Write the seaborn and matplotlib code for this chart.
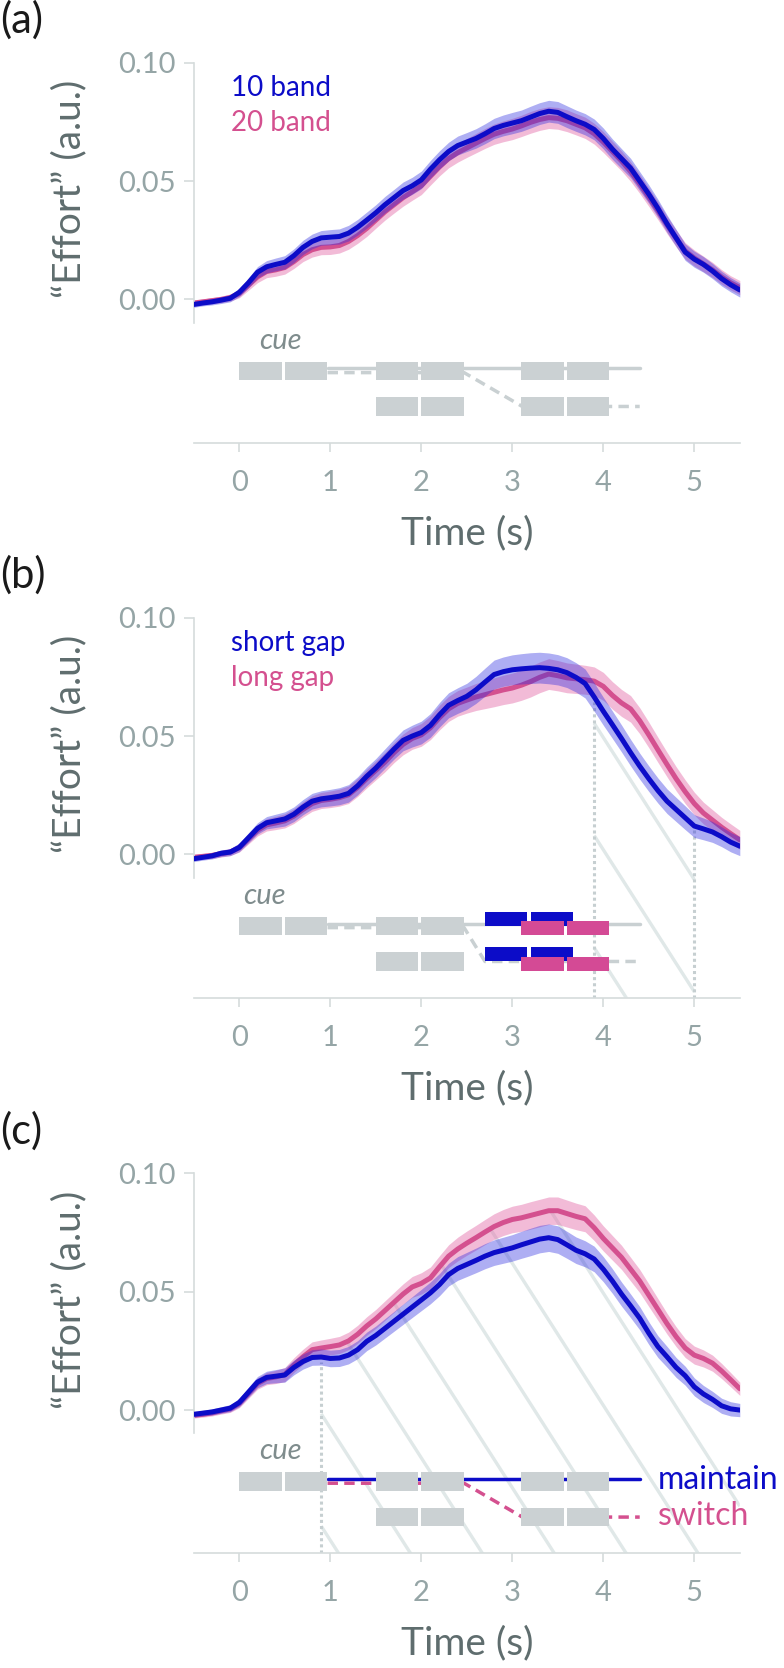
import numpy as np
import pandas as pd
import matplotlib
matplotlib.use("Agg")
import matplotlib.pyplot as plt
import seaborn as sns
from matplotlib.patches import Rectangle, Polygon

sns.set_theme(style="white")
plt.rcParams['font.family'] = ['Lato', 'DejaVu Sans']

# sampling grid of the effort traces (s)
time = np.linspace(-0.5, 5.5, 61)

# panel (a): 10 band vs 20 band
a_10 = [-0.0021, -0.0015, -0.0010, -0.0003, 0.0005, 0.0030, 0.0070, 0.0115, 0.0138, 0.0148,
        0.0157, 0.0185, 0.0220, 0.0245, 0.0260, 0.0263, 0.0266, 0.0280, 0.0305, 0.0335,
        0.0366, 0.0400, 0.0430, 0.0460, 0.0480, 0.0505, 0.0550, 0.0590, 0.0625, 0.0650,
        0.0665, 0.0680, 0.0700, 0.0722, 0.0735, 0.0745, 0.0755, 0.0770, 0.0785, 0.0795,
        0.0790, 0.0772, 0.0755, 0.0740, 0.0718, 0.0680, 0.0635, 0.0595, 0.0555, 0.0500,
        0.0445, 0.0385, 0.0320, 0.0260, 0.0200, 0.0170, 0.0148, 0.0120, 0.0088, 0.0062, 0.0040]
a_20 = [-0.0015, -0.0010, -0.0005, 0.0000, 0.0008, 0.0025, 0.0060, 0.0095, 0.0118, 0.0125,
        0.0135, 0.0160, 0.0190, 0.0210, 0.0220, 0.0222, 0.0228, 0.0245, 0.0270, 0.0300,
        0.0335, 0.0370, 0.0400, 0.0430, 0.0455, 0.0480, 0.0520, 0.0560, 0.0595, 0.0620,
        0.0640, 0.0660, 0.0680, 0.0698, 0.0710, 0.0720, 0.0733, 0.0748, 0.0760, 0.0768,
        0.0765, 0.0755, 0.0740, 0.0725, 0.0700, 0.0665, 0.0625, 0.0585, 0.0540, 0.0488,
        0.0432, 0.0375, 0.0315, 0.0258, 0.0205, 0.0175, 0.0150, 0.0125, 0.0095, 0.0070, 0.0050]
sem_a = [0.0012, 0.0012, 0.0013, 0.0014, 0.0015, 0.0018, 0.0021, 0.0024, 0.0026, 0.0027,
         0.0028, 0.0029, 0.0030, 0.0031, 0.0031, 0.0032, 0.0032, 0.0033, 0.0033, 0.0034,
         0.0034, 0.0035, 0.0035, 0.0036, 0.0036, 0.0037, 0.0037, 0.0038, 0.0039, 0.0040,
         0.0040, 0.0041, 0.0042, 0.0043, 0.0044, 0.0045, 0.0045, 0.0046, 0.0046, 0.0046,
         0.0046, 0.0046, 0.0045, 0.0045, 0.0044, 0.0044, 0.0043, 0.0042, 0.0041, 0.0040,
         0.0039, 0.0038, 0.0037, 0.0036, 0.0035, 0.0034, 0.0033, 0.0032, 0.0031, 0.0030, 0.0030]

# panel (b): short gap vs long gap
b_short = [-0.0018, -0.0012, -0.0006, 0.0005, 0.0010, 0.0030, 0.0070, 0.0110, 0.0134, 0.0142,
           0.0150, 0.0170, 0.0200, 0.0225, 0.0235, 0.0240, 0.0246, 0.0258, 0.0290, 0.0330,
           0.0365, 0.0405, 0.0445, 0.0482, 0.0500, 0.0515, 0.0545, 0.0590, 0.0630, 0.0650,
           0.0668, 0.0695, 0.0728, 0.0760, 0.0772, 0.0780, 0.0784, 0.0787, 0.0789, 0.0786,
           0.0780, 0.0768, 0.0748, 0.0722, 0.0665, 0.0605, 0.0548, 0.0490, 0.0430, 0.0373,
           0.0320, 0.0270, 0.0225, 0.0190, 0.0155, 0.0120, 0.0108, 0.0095, 0.0075, 0.0052, 0.0035]
b_long = [-0.0012, -0.0008, -0.0004, 0.0003, 0.0010, 0.0028, 0.0065, 0.0102, 0.0125, 0.0133,
          0.0142, 0.0162, 0.0190, 0.0215, 0.0228, 0.0233, 0.0240, 0.0252, 0.0283, 0.0320,
          0.0355, 0.0390, 0.0430, 0.0465, 0.0490, 0.0505, 0.0535, 0.0578, 0.0615, 0.0638,
          0.0652, 0.0665, 0.0675, 0.0685, 0.0695, 0.0703, 0.0715, 0.0730, 0.0748, 0.0762,
          0.0755, 0.0746, 0.0742, 0.0738, 0.0732, 0.0710, 0.0672, 0.0640, 0.0615, 0.0565,
          0.0505, 0.0442, 0.0380, 0.0320, 0.0265, 0.0215, 0.0175, 0.0145, 0.0115, 0.0088, 0.0062]
sem_b = [0.0012, 0.0012, 0.0013, 0.0014, 0.0015, 0.0018, 0.0021, 0.0024, 0.0026, 0.0028,
         0.0030, 0.0031, 0.0032, 0.0033, 0.0034, 0.0035, 0.0036, 0.0037, 0.0038, 0.0039,
         0.0040, 0.0041, 0.0042, 0.0044, 0.0046, 0.0048, 0.0050, 0.0052, 0.0053, 0.0054,
         0.0055, 0.0057, 0.0059, 0.0061, 0.0062, 0.0063, 0.0064, 0.0065, 0.0065, 0.0065,
         0.0064, 0.0063, 0.0062, 0.0061, 0.0060, 0.0059, 0.0058, 0.0057, 0.0056, 0.0055,
         0.0054, 0.0053, 0.0052, 0.0051, 0.0050, 0.0048, 0.0046, 0.0044, 0.0042, 0.0041, 0.0040]

# panel (c): maintain vs switch
c_maint = [-0.0018, -0.0013, -0.0008, 0.0000, 0.0008, 0.0032, 0.0075, 0.0118, 0.0138, 0.0143,
           0.0148, 0.0180, 0.0205, 0.0222, 0.0224, 0.0218, 0.0220, 0.0232, 0.0255, 0.0290,
           0.0315, 0.0345, 0.0375, 0.0405, 0.0435, 0.0465, 0.0495, 0.0530, 0.0572, 0.0598,
           0.0615, 0.0632, 0.0650, 0.0665, 0.0675, 0.0685, 0.0698, 0.0710, 0.0722, 0.0728,
           0.0720, 0.0698, 0.0675, 0.0660, 0.0638, 0.0595, 0.0545, 0.0490, 0.0440, 0.0388,
           0.0325, 0.0268, 0.0225, 0.0180, 0.0145, 0.0098, 0.0068, 0.0045, 0.0018, 0.0005, 0.0000]
c_switch = [-0.0022, -0.0018, -0.0012, -0.0003, 0.0005, 0.0028, 0.0070, 0.0112, 0.0133, 0.0140,
            0.0150, 0.0190, 0.0225, 0.0255, 0.0262, 0.0268, 0.0275, 0.0292, 0.0320, 0.0355,
            0.0385, 0.0420, 0.0455, 0.0490, 0.0520, 0.0535, 0.0558, 0.0605, 0.0650, 0.0680,
            0.0705, 0.0728, 0.0752, 0.0775, 0.0792, 0.0805, 0.0812, 0.0822, 0.0832, 0.0842,
            0.0842, 0.0830, 0.0818, 0.0808, 0.0770, 0.0725, 0.0685, 0.0645, 0.0595, 0.0545,
            0.0485, 0.0425, 0.0365, 0.0310, 0.0262, 0.0232, 0.0218, 0.0198, 0.0165, 0.0128, 0.0090]
sem_c = [0.0012, 0.0012, 0.0013, 0.0014, 0.0015, 0.0018, 0.0021, 0.0024, 0.0026, 0.0028,
         0.0030, 0.0031, 0.0032, 0.0033, 0.0034, 0.0035, 0.0036, 0.0037, 0.0038, 0.0039,
         0.0040, 0.0041, 0.0042, 0.0043, 0.0044, 0.0045, 0.0046, 0.0047, 0.0048, 0.0050,
         0.0051, 0.0052, 0.0053, 0.0054, 0.0055, 0.0056, 0.0057, 0.0058, 0.0058, 0.0058,
         0.0058, 0.0057, 0.0056, 0.0055, 0.0054, 0.0053, 0.0052, 0.0051, 0.0050, 0.0049,
         0.0048, 0.0046, 0.0044, 0.0042, 0.0040, 0.0038, 0.0036, 0.0034, 0.0032, 0.0030, 0.0028]

legend_ab = [("10 band", "20 band"), ("short gap", "long gap")]
time_ticks = [0, 1, 2, 3, 4, 5]
effort_ticks = [0.0, 0.05, 0.10]
effort_ticklabels = ["0.00", "0.05", "0.10"]

BLUE = "#0c0cc8"
PINK = "#d4508f"
BLUE_FILL = "#2a2ae0"
PINK_FILL = "#e36aa8"
BOX = "#cbd1d3"
SCHEM = "#c9d0d2"
GUIDE = "#e0e8e8"
AXC = "#d5dcdc"
TICKC = "#95a5a6"
LABC = "#5f6d6e"

YMIN, YMAX = -0.0605, 0.105
ROW1, ROW2 = -0.0302, -0.0452
BW, BH = 0.465, 0.0078

W, H = 784, 1668
fig = plt.figure(figsize=(W / 100, H / 100), dpi=100)
ax_bottoms = [442.7, 997.7, 1553.3]
ax_h = (YMAX - YMIN) * 2367.6


def draw_traces(ax, blue, pink, sem):
    df = pd.DataFrame({"time": np.tile(time, 2),
                       "effort": np.concatenate([pink, blue]),
                       "cond": ["pink"] * len(time) + ["blue"] * len(time)})
    sem = np.asarray(sem)
    for k, (cond, col, fcol, alpha) in enumerate([("pink", PINK, PINK_FILL, 0.45),
                                                  ("blue", BLUE, BLUE_FILL, 0.38)]):
        sub = df[df["cond"] == cond]
        ax.fill_between(sub["time"], sub["effort"] - sem, sub["effort"] + sem,
                        color=fcol, alpha=alpha, lw=0, zorder=2 + k)
        sns.lineplot(data=sub, x="time", y="effort", color=col, lw=3.6,
                     ax=ax, legend=False, zorder=2.5 + k)


def box(ax, x, yc, color=BOX, h=BH):
    ax.add_patch(Rectangle((x, yc - h / 2), BW, h, facecolor=color, lw=0, zorder=4))


def guides(ax, blue, pink, t0, t1):
    upper = np.maximum(blue, pink)
    verts = list(zip(time, upper)) + [(5.5, YMIN), (-0.5, YMIN)]
    clip = Polygon(verts, closed=True, transform=ax.transData)
    for k in range(7):
        c = 0.005 + 0.0474 * k
        ln, = ax.plot([t0, t1], [c - 0.06 * t0, c - 0.06 * t1], color=GUIDE,
                      lw=2.4, zorder=0.5, solid_capstyle="butt")
        ln.set_clip_path(clip)


def dotted(ax, t, top):
    ax.plot([t, t], [YMIN, top], color="#c6cfd1", lw=2.2,
            ls=(0, (1, 1)), zorder=0.8)


for i in range(3):
    bottom = 1 - ax_bottoms[i] / H
    ax = fig.add_axes([193.8 / W, bottom, 546 / W, ax_h / H])
    ax.set_xlim(-0.5, 5.5)
    ax.set_ylim(YMIN, YMAX)

    if i == 0:
        blue, pink, sem = a_10, a_20, sem_a
    elif i == 1:
        blue, pink, sem = b_short, b_long, sem_b
    else:
        blue, pink, sem = c_maint, c_switch, sem_c
    draw_traces(ax, blue, pink, sem)

    # legends for (a) and (b)
    if i < 2:
        ax.text(-0.09, 0.0859, legend_ab[i][0], color=BLUE, fontsize=20, va="baseline")
        ax.text(-0.09, 0.0711, legend_ab[i][1], color=PINK, fontsize=20, va="baseline")

    # trial schematic
    cue_x = 0.28 if i == 1 else 0.45
    ax.text(cue_x, -0.0208, "cue", style="italic", color="#7f8c8d", fontsize=21,
            ha="center", va="baseline")
    for x in [0, 0.5, 1.5, 2.0]:
        box(ax, x, ROW1)
    for x in [1.5, 2.0]:
        box(ax, x, ROW2)
    if i == 1:
        for row in [ROW1, ROW2]:
            for x in [2.7, 3.2]:
                box(ax, x, row + 0.003, BLUE, 0.006)
            for x in [3.1, 3.6]:
                box(ax, x, row - 0.001, "#d44a95", 0.006)
        ax.plot([0.97, 4.4], [ROW1 + 0.001] * 2, color=SCHEM, lw=2.5, zorder=1)
        ax.plot([0.97, 2.47, 2.7, 4.4], [ROW1 - 0.0007, ROW1 - 0.0007, ROW2, ROW2],
                color=SCHEM, lw=2.5, ls=(0, (3, 1.8)), zorder=1)
        guides(ax, blue, pink, 3.9, 5.0)
        dotted(ax, 3.9, blue[44] - 0.002)
        dotted(ax, 5.0, blue[55] - 0.0005)
    else:
        for row in [ROW1, ROW2]:
            for x in [3.1, 3.6]:
                box(ax, x, row)
        lc1 = SCHEM if i == 0 else BLUE
        lc2 = SCHEM if i == 0 else PINK
        ax.plot([0.97, 4.4], [ROW1 + 0.0012] * 2, color=lc1, lw=2.5, zorder=1)
        ax.plot([0.97, 2.47, 3.11, 4.4], [ROW1 - 0.0007, ROW1 - 0.0007, ROW2, ROW2],
                color=lc2, lw=2.5, ls=(0, (3, 1.8)), zorder=1)
    if i == 2:
        guides(ax, blue, pink, 0.9, 5.5)
        dotted(ax, 0.9, blue[14] - 0.002)
        ax.text(4.6, -0.0334, "maintain", color=BLUE, fontsize=23, va="baseline")
        ax.text(4.6, -0.0486, "switch", color=PINK, fontsize=23, va="baseline")

    # axes styling
    sns.despine(ax=ax)
    ax.spines["left"].set_bounds(-0.0098, 0.10)
    for s in ["left", "bottom"]:
        ax.spines[s].set_color(AXC)
        ax.spines[s].set_linewidth(1.2)
    ax.set_xticks(time_ticks)
    ax.set_xticklabels([str(t) for t in time_ticks])
    ax.set_yticks(effort_ticks)
    ax.set_yticklabels(effort_ticklabels)
    ax.tick_params(axis="x", length=6.5, width=1.2, color=AXC, labelcolor=TICKC,
                   labelsize=21, pad=13, bottom=True)
    ax.tick_params(axis="y", length=7, width=1.2, color=AXC, labelcolor=TICKC,
                   labelsize=21, pad=6, left=True)
    ax.set_xlabel("Time (s)", fontsize=28, color=LABC)
    ax.xaxis.set_label_coords(0.5, -0.185)
    ax.set_ylabel("")
    ax.text(-0.228, 0.0465, "\u201cEffort\u201d (a.u.)", rotation=90, fontsize=28,
            color=LABC, ha="center", va="center",
            transform=ax.get_yaxis_transform())
    ax.patch.set_alpha(0)

    fig.text(0.0, 1 - (20 + 555.3 * i) / H, "(" + "abc"[i] + ")", fontsize=30,
             color="#1a1a1a", ha="left", va="center")

fig.savefig("out.png", dpi=100)
